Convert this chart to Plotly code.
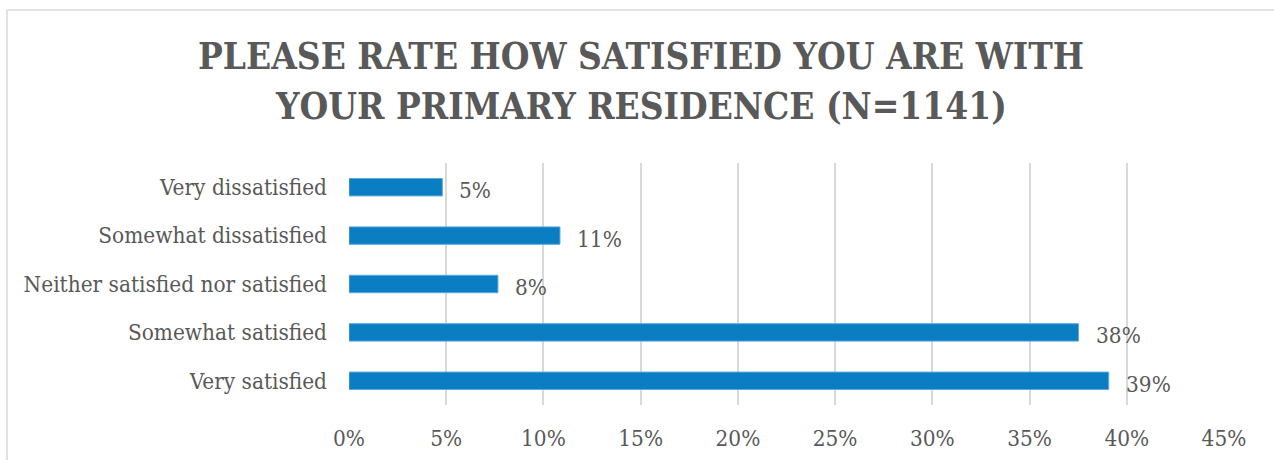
import plotly.graph_objects as go

# Survey responses, top to bottom as shown
categories = [
    "Very dissatisfied",
    "Somewhat dissatisfied",
    "Neither satisfied nor satisfied",
    "Somewhat satisfied",
    "Very satisfied",
]
shares = [0.048, 0.1085, 0.0766, 0.3752, 0.3907]
tick_vals = [0, 0.05, 0.10, 0.15, 0.20, 0.25, 0.30, 0.35, 0.40, 0.45]
tick_text = ["0%", "5%", "10%", "15%", "20%", "25%", "30%", "35%", "40%", "45%"]

title_lines = ["PLEASE RATE HOW SATISFIED YOU ARE WITH", "YOUR PRIMARY RESIDENCE (N=1141)"]

W, H = 1274, 460
ML, MR, MT, MB = 349, 50, 163, 55
TEXT = "#595959"
FONT = "DejaVu Serif Condensed"
FS = 22.4

fig = go.Figure(
    go.Bar(
        x=shares,
        y=categories,
        orientation="h",
        width=0.36,
        marker=dict(color="#0B7DC2", line=dict(color="#5EA9DC", width=1)),
        hoverinfo="skip",
    )
)

# value labels to the right of each bar
for cat, v in zip(categories, shares):
    fig.add_annotation(
        x=v, y=cat, text=f"{round(v * 100):.0f}%",
        xanchor="left", yanchor="middle", xshift=15, yshift=-3,
        showarrow=False, font=dict(family=FONT, size=FS, color=TEXT),
    )

# two-line bold title
for i, line in enumerate(title_lines):
    fig.add_annotation(
        xref="paper", yref="paper",
        x=(641 - ML) / (W - ML - MR), y=1 + (MT - (57 + 49 * i)) / (H - MT - MB),
        text=f"<b>{line}</b>", showarrow=False,
        xanchor="center", yanchor="middle",
        font=dict(family=FONT, size=36.7, color=TEXT),
    )

# light chart-area frame along the top and left edges
pw = W - ML - MR
ph = H - MT - MB
fx = (7 - ML) / pw
fy_top = 1 + (MT - 10) / ph
fy_bot = -MB / ph - 0.1
fig.add_shape(type="line", xref="paper", yref="paper", x0=fx, x1=2, y0=fy_top, y1=fy_top,
              line=dict(color="#D9D9D9", width=1.5))
fig.add_shape(type="line", xref="paper", yref="paper", x0=fx, x1=fx, y0=fy_top, y1=fy_bot,
              line=dict(color="#D9D9D9", width=1.5))

fig.update_layout(
    width=W, height=H,
    margin=dict(l=ML, r=MR, t=MT, b=MB, autoexpand=False),
    paper_bgcolor="white", plot_bgcolor="white",
    showlegend=False,
    xaxis=dict(
        range=[0, 0.45], tickvals=tick_vals, ticktext=tick_text,
        showgrid=True, gridcolor="#D9D9D9", gridwidth=2,
        zeroline=False, showline=False, ticks="", ticklen=0,
        ticklabelstandoff=18,
        tickfont=dict(family=FONT, size=FS, color=TEXT),
        fixedrange=True,
    ),
    yaxis=dict(
        categoryorder="array", categoryarray=categories[::-1],
        range=[-0.5, 4.5],
        showgrid=False, zeroline=False, showline=False, ticks="",
        ticklabelstandoff=21,
        tickfont=dict(family=FONT, size=FS, color=TEXT),
        fixedrange=True,
    ),
)

fig.write_html("out.html")
